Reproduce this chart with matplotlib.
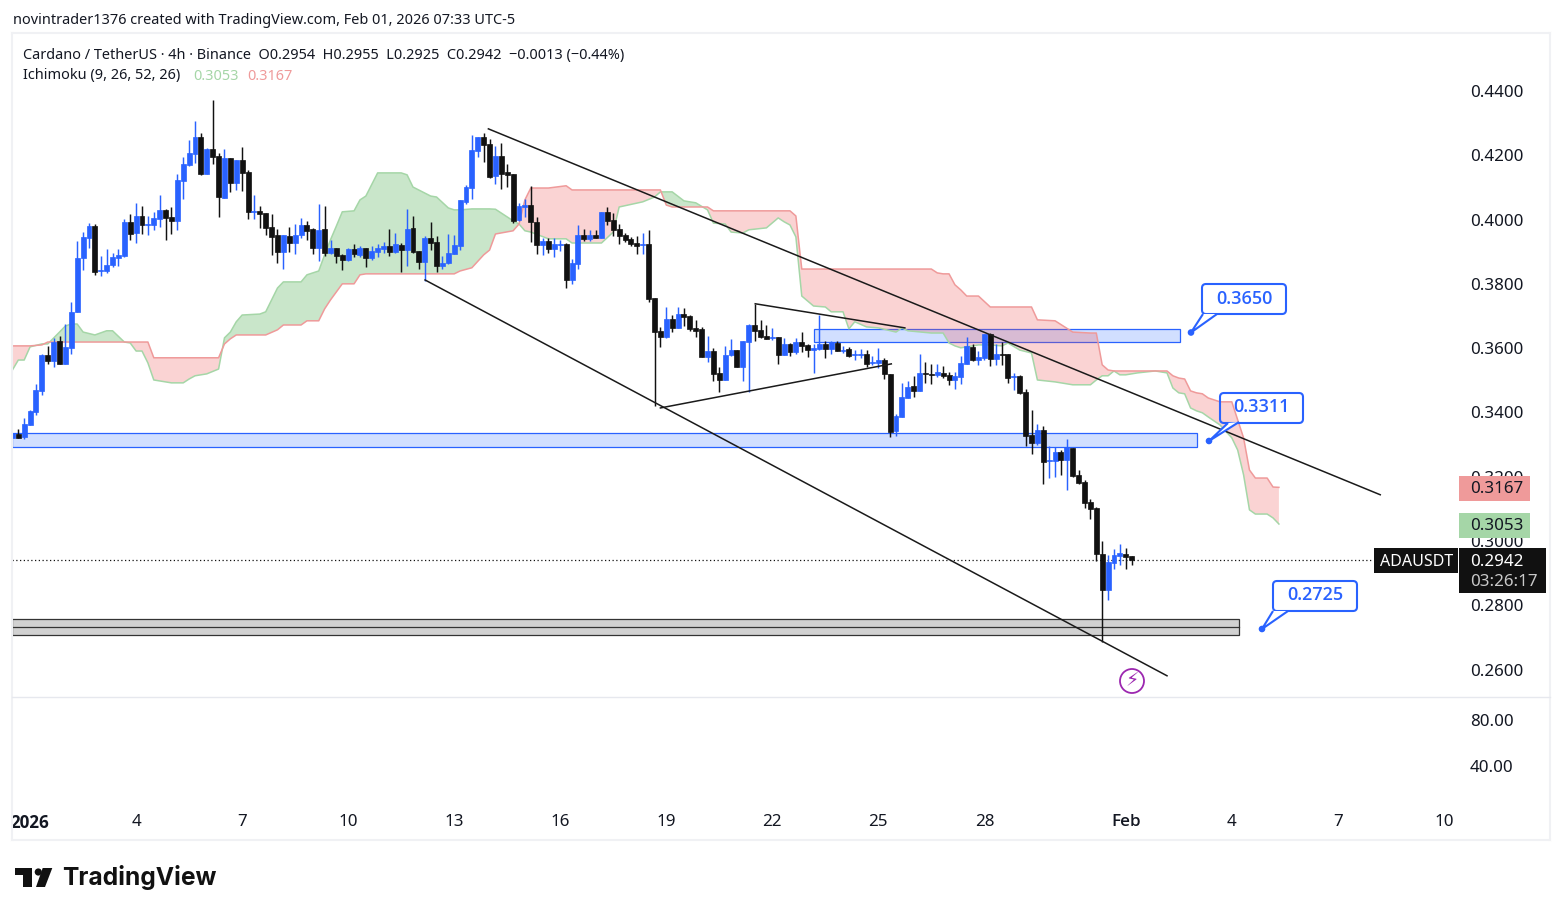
import matplotlib
matplotlib.use('Agg')
import matplotlib.pyplot as plt
import numpy as np
from matplotlib.lines import Line2D
from matplotlib.patches import FancyBboxPatch, Polygon, Rectangle, Circle
from matplotlib.transforms import Affine2D

plt.rcParams['font.family'] = ['Noto Sans', 'DejaVu Sans']

BLUE = '#2962ff'
BLACK = '#111111'
TEXT = '#131722'

opens = [.3319, .3333, .3323, .3361, .3401, .3467, .3579, .3560, .3622, .3551,
         .3600, .3712, .3880, .3943, .3980, .3840, .3840, .3859, .3880, .3887,
         .3992, .3958, .4011, .3983, .3983, .4002, .4030, .4008, .3995, .4120,
         .4170, .4204, .4257, .4142, .4219, .4198, .4067, .4191, .4114, .4185,
         .4148, .4023, .4027, .4021, .3977, .3952, .3899, .3949, .3927, .3952,
         .3983, .3971, .3912, .3971, .3896, .3912, .3890, .3874, .3909, .3890,
         .3912, .3881, .3899, .3909, .3918, .3899, .3921, .3906, .3974, .3902,
         .3868, .3943, .3930, .3856, .3865, .3893, .3918, .4055, .4098, .4214,
         .4257, .4235, .4136, .4198, .4148, .4142, .3999, .4039, .4046, .3993,
         .3921, .3934, .3909, .3921, .3924, .3812, .3862, .3952, .3940, .3952,
         .3943, .4024, .3999, .3971, .3952, .3940, .3927, .3921, .3924, .3756,
         .3653, .3635, .3691, .3663, .3706, .3700, .3663, .3660, .3573, .3591,
         .3523, .3501, .3579, .3594, .3541, .3619, .3672, .3657, .3638, .3632,
         .3635, .3579, .3613, .3588, .3619, .3610, .3594, .3597, .3613, .3597,
         .3616, .3591, .3597, .3579, .3579, .3582, .3555, .3554, .3563, .3520,
         .3343, .3386, .3445, .3483, .3467, .3523, .3520, .3517, .3523, .3517,
         .3501, .3511, .3551, .3604, .3564, .3570, .3644, .3567, .3582, .3582,
         .3511, .3514, .3464, .3330, .3305, .3346, .3249, .3249, .3277, .3252,
         .3290, .3206, .3184, .3122, .3103, .2960, .2848, .2932, .2954, .2960,
         .2954]
highs = [.3335, .3350, .3382, .3407, .3490, .3582, .3607, .3631, .3638, .3675,
         .3743, .3933, .3961, .3989, .3986, .3887, .3908, .3896, .3908, .4002,
         .4017, .4051, .4042, .4011, .4023, .4076, .4033, .4039, .4142, .4195,
         .4247, .4307, .4269, .4223, .4372, .4207, .4219, .4191, .4185, .4226,
         .4154, .4076, .4042, .4021, .4018, .3971, .3952, .3977, .3986, .4005,
         .3996, .3974, .4049, .4042, .3937, .3912, .3893, .3912, .3924, .3918,
         .3912, .3918, .3924, .3930, .3971, .3958, .3927, .4033, .4011, .3902,
         .3949, .3993, .3949, .3887, .3955, .3952, .4061, .4108, .4263, .4257,
         .4270, .4251, .4229, .4238, .4173, .4142, .4052, .4064, .4105, .4008,
         .3943, .3943, .3943, .3937, .3927, .3878, .3983, .3971, .3968, .3968,
         .4024, .4039, .4021, .3986, .3958, .3946, .3949, .3958, .3968, .3756,
         .3666, .3728, .3703, .3728, .3725, .3703, .3688, .3666, .3638, .3601,
         .3541, .3607, .3629, .3594, .3622, .3675, .3737, .3688, .3672, .3663,
         .3635, .3632, .3616, .3632, .3650, .3613, .3613, .3703, .3622, .3622,
         .3622, .3607, .3604, .3594, .3597, .3594, .3576, .3601, .3569, .3520,
         .3396, .3492, .3498, .3514, .3582, .3557, .3551, .3551, .3545, .3526,
         .3526, .3576, .3635, .3613, .3592, .3644, .3648, .3613, .3620, .3582,
         .3523, .3517, .3473, .3408, .3364, .3358, .3296, .3293, .3284, .3318,
         .3290, .3221, .3190, .3131, .3106, .3000, .2957, .2976, .2991, .2979,
         .2955]
lows = [.3319, .3320, .3318, .3361, .3392, .3454, .3551, .3541, .3551, .3551,
        .3582, .3712, .3843, .3911, .3827, .3824, .3834, .3852, .3855, .3883,
        .3936, .3927, .3955, .3952, .3967, .3977, .3936, .3955, .3967, .4064,
        .4167, .4176, .4139, .4142, .4173, .4008, .4067, .4086, .4092, .4089,
        .4002, .4002, .3974, .3952, .3890, .3865, .3846, .3899, .3893, .3943,
        .3937, .3893, .3871, .3887, .3893, .3865, .3843, .3871, .3884, .3884,
        .3853, .3874, .3884, .3896, .3887, .3896, .3837, .3856, .3896, .3846,
        .3809, .3906, .3837, .3846, .3862, .3893, .3906, .4049, .4064, .4195,
        .4179, .4130, .4111, .4095, .4102, .3990, .3996, .4008, .3930, .3893,
        .3890, .3896, .3884, .3902, .3787, .3800, .3846, .3934, .3934, .3943,
        .3943, .3983, .3949, .3924, .3930, .3918, .3893, .3893, .3744, .3420,
        .3604, .3632, .3650, .3663, .3669, .3653, .3635, .3573, .3557, .3498,
        .3464, .3501, .3576, .3541, .3498, .3464, .3622, .3632, .3629, .3625,
        .3551, .3579, .3576, .3582, .3588, .3573, .3523, .3594, .3569, .3582,
        .3591, .3585, .3573, .3563, .3569, .3541, .3548, .3538, .3504, .3324,
        .3327, .3386, .3445, .3448, .3467, .3492, .3489, .3511, .3508, .3486,
        .3473, .3489, .3551, .3560, .3548, .3564, .3545, .3548, .3548, .3492,
        .3470, .3458, .3296, .3271, .3299, .3178, .3196, .3200, .3206, .3159,
        .3200, .3178, .3103, .3069, .2938, .2686, .2817, .2913, .2926, .2913,
        .2925]
closes = [.3335, .3320, .3364, .3404, .3470, .3579, .3560, .3619, .3551, .3603,
          .3712, .3880, .3946, .3980, .3837, .3843, .3859, .3883, .3890, .3992,
          .3955, .4011, .3983, .3986, .4005, .4030, .4005, .3995, .4123, .4173,
          .4207, .4257, .4142, .4219, .4195, .4070, .4191, .4114, .4185, .4145,
          .4023, .4027, .4018, .3974, .3946, .3899, .3952, .3927, .3952, .3983,
          .3965, .3912, .3968, .3896, .3912, .3887, .3874, .3909, .3893, .3912,
          .3881, .3902, .3912, .3918, .3899, .3924, .3906, .3971, .3899, .3868,
          .3943, .3927, .3856, .3865, .3896, .3921, .4061, .4102, .4217, .4257,
          .4232, .4133, .4198, .4142, .4139, .3996, .4042, .4046, .3993, .3921,
          .3934, .3909, .3924, .3924, .3812, .3865, .3952, .3940, .3952, .3943,
          .4024, .3996, .3968, .3949, .3937, .3924, .3918, .3924, .3753, .3650,
          .3635, .3691, .3663, .3706, .3697, .3660, .3653, .3573, .3591, .3520,
          .3501, .3579, .3594, .3541, .3622, .3672, .3653, .3635, .3629, .3635,
          .3579, .3613, .3588, .3619, .3607, .3594, .3601, .3613, .3597, .3619,
          .3591, .3594, .3576, .3582, .3582, .3551, .3558, .3563, .3520, .3339,
          .3389, .3448, .3480, .3467, .3523, .3520, .3517, .3526, .3514, .3501,
          .3514, .3554, .3607, .3564, .3573, .3644, .3567, .3582, .3579, .3508,
          .3514, .3461, .3327, .3305, .3346, .3246, .3252, .3277, .3252, .3293,
          .3203, .3181, .3119, .3100, .2960, .2848, .2935, .2957, .2963, .2951,
          .2942]

# ichimoku cloud, read at the bars where the edges change direction
cloud_bars = [0, 1, 2, 3, 5, 6, 8, 9, 10, 11, 12, 14, 16, 17, 19, 20, 21, 22, 23, 24,
              27, 29, 30, 31, 33, 35, 36, 37, 38, 39, 42, 43, 45, 46, 49, 50, 52, 53, 54, 55,
              56, 58, 59, 60, 62, 66, 67, 68, 71, 72, 74, 75, 76, 78, 80, 81, 82, 85, 86, 87,
              88, 91, 94, 95, 100, 102, 103, 107, 109, 110, 111, 112, 114, 116, 118, 119, 121, 122, 124, 125,
              128, 130, 131, 132, 133, 134, 136, 138, 139, 141, 142, 143, 145, 147, 150, 151, 152, 156, 157, 158,
              159, 160, 161, 162, 164, 166, 168, 169, 171, 173, 174, 177, 180, 183, 184, 185, 186, 187, 188, 189,
              191, 194, 196, 197, 198, 199, 200, 201, 202, 203, 205, 207, 208, 209, 210, 211, 213, 214, 215]
span_a = [.3532, .3563, .3563, .3604, .3613, .3613, .3650, .3669, .3675, .3675, .3650, .3641, .3654, .3654, .3619, .3616, .3591, .3591, .3554, .3501,
          .3492, .3492, .3504, .3514, .3520, .3535, .3632, .3650, .3682, .3703, .3706, .3713, .3787, .3806, .3806, .3828, .3840, .3890, .3937, .3980,
          .4024, .4027, .4061, .4073, .4145, .4145, .4139, .4101, .4073, .4070, .4036, .4030, .4030, .4033, .4033, .4033, .4032, .3996, .3986, .3965,
          .3961, .3940, .3940, .3927, .3927, .3961, .4039, .4055, .4070, .4086, .4086, .4086, .4058, .4052, .4030, .3989, .3986, .3961, .3958, .3968,
          .3974, .4005, .3993, .3983, .3946, .3762, .3731, .3728, .3713, .3713, .3660, .3682, .3666, .3663, .3650, .3663, .3654, .3647, .3647, .3647,
          .3616, .3607, .3601, .3604, .3610, .3610, .3607, .3616, .3594, .3585, .3501, .3495, .3486, .3486, .3501, .3514, .3514, .3529, .3517, .3517,
          .3523, .3529, .3523, .3476, .3461, .3458, .3414, .3405, .3399, .3386, .3361, .3321, .3283, .3206, .3097, .3084, .3084, .3072, .3053]
span_b = [.3607, .3607, .3607, .3607, .3610, .3619, .3619, .3619, .3619, .3619, .3619, .3619, .3619, .3619, .3619, .3619, .3619, .3619, .3619, .3570,
          .3570, .3570, .3570, .3570, .3570, .3570, .3613, .3629, .3641, .3641, .3641, .3641, .3657, .3672, .3672, .3685, .3685, .3722, .3750, .3775,
          .3800, .3800, .3828, .3831, .3831, .3831, .3831, .3831, .3831, .3831, .3831, .3831, .3840, .3850, .3890, .3905, .3955, .3965, .3986, .4061,
          .4098, .4098, .4105, .4092, .4092, .4092, .4092, .4092, .4092, .4092, .4045, .4039, .4039, .4039, .4039, .4027, .4027, .4027, .4027, .4027,
          .4027, .4027, .4027, .4027, .4011, .3846, .3846, .3846, .3846, .3846, .3846, .3846, .3846, .3846, .3846, .3846, .3846, .3846, .3834, .3831,
          .3831, .3797, .3781, .3762, .3762, .3728, .3728, .3728, .3728, .3728, .3688, .3685, .3650, .3647, .3647, .3548, .3532, .3529, .3529, .3529,
          .3529, .3529, .3529, .3514, .3507, .3504, .3467, .3461, .3458, .3445, .3433, .3433, .3377, .3321, .3221, .3196, .3196, .3168, .3167]

# drawings: (bar, price) pairs
trend_lines = [((80.8, .4282), (232.2, .3144)),
               ((70.05, .3812), (196.0, .2581)),
               ((126.1, .3738), (151.5, .3663)),
               ((110.0, .3414), (149.2, .3551))]
blue_zones = [(136.1, 198.2, .3619, .3660), (0.0, 201.1, .3293, .3336)]
gray_zone = (0.0, 208.3, .2708, .2733, .2758)

price_ticks = [.26, .28, .30, .32, .34, .36, .38, .40, .42, .44]
rsi_ticks = [40, 80]
tick_days = [0, 3, 6, 9, 12, 15, 18, 21, 24, 27, 31, 34, 37, 40]
tick_labels = ['2026', '4', '7', '10', '13', '16', '19', '22', '25', '28', 'Feb', '4', '7', '10']

callout_labels = ['0.3650', '0.3311', '0.2725']
span_a_last = 0.3053
span_b_last = 0.3167

W, H = 1563, 916
# pixel coordinates with the origin top left, for the screen furniture
px_tf = Affine2D().scale(1, -1).translate(0, H)


def fs(px):
    return px * 0.72


def axes_px(fig, x0, y0, x1, y1):
    return fig.add_axes([x0 / W, 1 - y1 / H, (x1 - x0) / W, (y1 - y0) / H])


def draw_candles(ax):
    o, h, l, c = map(np.array, (opens, highs, lows, closes))
    x = np.arange(len(o))
    colors = np.where(c >= o, BLUE, BLACK)
    ax.vlines(x, l, h, colors=colors, lw=1.05, zorder=3)
    ax.bar(x, np.abs(c - o), bottom=np.minimum(o, c), width=0.84, color=colors,
           edgecolor=colors, linewidth=0.5, zorder=3.1)


def draw_cloud(ax):
    a, b = np.array(span_a), np.array(span_b)
    ax.fill_between(cloud_bars, a, b, where=a >= b, interpolate=True, color='#4caf50',
                    alpha=0.3, lw=0, zorder=2)
    ax.fill_between(cloud_bars, a, b, where=a <= b, interpolate=True, color='#ef5350',
                    alpha=0.25, lw=0, zorder=2)
    ax.plot(cloud_bars, a, color='#a5d6a7', lw=1.1, zorder=2.1)
    ax.plot(cloud_bars, b, color='#ef9a9a', lw=1.1, zorder=2.1)


def draw_zones(ax):
    for x0, x1, y0, y1 in blue_zones:
        ax.add_patch(Rectangle((x0, y0), x1 - x0, y1 - y0, fc='#d1dfff', ec=BLUE, lw=0.9, zorder=1))
    x0, x1, y0, ym, y1 = gray_zone
    ax.add_patch(Rectangle((x0, y0), x1 - x0, y1 - y0, fc='#d1d1d1', ec='#333333', lw=0.9, zorder=1))
    ax.plot([x0, x1], [ym, ym], color='#333333', lw=0.9, zorder=1.1)


def callout(ax, label, box, tip, base):
    x0, y0, x1, y1 = box
    ax.add_patch(FancyBboxPatch((x0, y0), x1 - x0, y1 - y0, boxstyle='round,pad=0,rounding_size=4',
                                fc='none', ec=BLUE, lw=1.5, transform=px_tf, clip_on=False, zorder=7))
    ax.add_patch(Polygon([base[0], tip, base[1]], closed=False, fc='white', ec=BLUE, lw=1.5,
                         transform=px_tf, clip_on=False, zorder=7.1))
    ax.add_patch(Circle(tip, 2.6, fc=BLUE, ec=BLUE, transform=px_tf, clip_on=False, zorder=7.2))
    ax.text((x0 + x1) / 2, (y0 + y1) / 2 - 0.5, label, color=BLUE, fontsize=fs(18), family='Open Sans',
            weight='semibold', ha='center', va='center', transform=px_tf, clip_on=False, zorder=7.3)


def badge(ax, box, color, label, y_text, text_color=TEXT, x_text=1470, size=17):
    x0, y0, x1, y1 = box
    ax.add_patch(Rectangle((x0, y0), x1 - x0, y1 - y0, fc=color, ec='none', transform=px_tf,
                           clip_on=False, zorder=6))
    ax.text(x_text, y_text, label, color=text_color, fontsize=fs(size), ha='left', va='center',
            transform=px_tf, clip_on=False, zorder=6.1)


def furniture(fig, ax):
    for x0, y0, x1, y1, col, lw in [(12, 33, 1550, 33, '#f0f1f4', 1.5), (12, 33, 12, 840, '#f0f1f4', 1.5),
                                    (1550, 33, 1550, 840, '#f0f1f4', 1.5), (12, 840, 1550, 840, '#f0f1f4', 1.5),
                                    (12, 697, 1550, 697, '#e6e8ee', 1.0)]:
        fig.add_artist(Line2D([x0, x1], [y0, y1], color=col, lw=lw, transform=px_tf))

    def label(x, y, s, size=14.5, color=TEXT, **kw):
        fig.text(x, y, s, color=color, fontsize=fs(size), ha='left', va='center', transform=px_tf, **kw)

    label(13, 21, 'novintrader1376 created with TradingView.com, Feb 01, 2026 07:33 UTC-5')
    label(23, 56, 'Cardano / TetherUS · 4h · Binance  O0.2954  H0.2955  L0.2925  C0.2942  \u22120.0013 (\u22120.44%)')
    label(23, 76, 'Ichimoku (9, 26, 52, 26)')
    label(193, 76, f'{span_a_last:.4f}', color='#a5d6a7')
    label(247, 76, f'{span_b_last:.4f}', color='#ef9a9a')

    # logo
    fig.add_artist(Polygon([(15, 868), (32, 868), (32, 887), (23, 887), (23, 875), (15, 875)],
                           fc=BLACK, ec='none', transform=px_tf))
    fig.add_artist(Circle((38.3, 872), 3.6, fc=BLACK, ec='none', transform=px_tf))
    fig.add_artist(Polygon([(42.7, 868), (52.3, 868), (45, 887), (36, 887)], fc=BLACK, ec='none', transform=px_tf))
    fig.text(62, 878, 'TradingView', color=BLACK, fontsize=fs(24.6), family='Inter', weight='bold',
             ha='left', va='center', transform=px_tf)


def main():
    fig = plt.figure(figsize=(W / 100, H / 100), dpi=100, facecolor='white')
    ax = axes_px(fig, 13, 34, 1458, 697)
    ax2 = axes_px(fig, 13, 698, 1458, 806)

    draw_zones(ax)
    draw_cloud(ax)
    draw_candles(ax)
    for (x0, y0), (x1, y1) in trend_lines:
        ax.plot([x0, x1], [y0, y1], color='#1a1a1a', lw=1.1, zorder=4)
    ax.hlines(closes[-1], 0, 231, color=BLACK, lw=0.9, linestyles=(0, (1, 2)), zorder=1.5)

    ax.set_xlim(0.1, 245.4)
    ax.set_ylim(.2515, .4577)
    ax.yaxis.tick_right()
    ax.set_yticks(price_ticks, [f'{p:.4f}' for p in price_ticks])
    ax.tick_params(axis='y', length=0, pad=8.6, labelsize=fs(17), labelcolor=TEXT)
    ax.set_xticks([])

    ax2.set_xlim(0.1, 245.4)
    ax2.set_ylim(5.2, 99.1)
    ax2.yaxis.tick_right()
    ax2.set_yticks(rsi_ticks, [f'{v:.2f}' for v in rsi_ticks])
    ax2.tick_params(axis='y', length=0, pad=8.6, labelsize=fs(17), labelcolor=TEXT)
    ax2.set_xticks([3 + 6 * d for d in tick_days], tick_labels)
    ax2.tick_params(axis='x', length=0, pad=5.8, labelsize=fs(17), labelcolor=TEXT)
    for t in ax2.get_xticklabels():
        if t.get_text() == '2026':
            t.set_family('Open Sans')
            t.set_fontweight('bold')
        elif t.get_text() == 'Feb':
            t.set_family('Open Sans')
            t.set_fontweight('semibold')

    for a in (ax, ax2):
        a.patch.set_alpha(0)
        for s in a.spines.values():
            s.set_visible(False)

    callout(ax, callout_labels[0], (1202, 284, 1286, 314), (1191, 332.5), [(1203, 314), (1217, 314)])
    callout(ax, callout_labels[1], (1220, 393, 1303, 423), (1209, 441), [(1228, 423), (1239, 422)])
    callout(ax, callout_labels[2], (1273, 581, 1357, 611), (1262, 629), [(1273, 611), (1288, 611)])

    badge(ax, (1459, 476, 1530, 501), '#ef9a9a', f'{span_b_last:.4f}', 489)
    badge(ax, (1459, 513, 1530, 538), '#a5d6a7', f'{span_a_last:.4f}', 526)
    badge(ax, (1459, 548, 1546, 593), BLACK, f'{closes[-1]:.4f}', 562, 'white')
    ax.text(1470, 582, '03:26:17', color='#c9c9c9', fontsize=fs(17), ha='left', va='center',
            transform=px_tf, clip_on=False, zorder=6.1)
    badge(ax, (1374, 548, 1458, 573), BLACK, 'ADAUSDT', 562, 'white', x_text=1380, size=16)

    # purple marker under the last candles
    ax.add_patch(Circle((1132, 681), 12, fc='white', ec='#9c27b0', lw=1.3, transform=px_tf,
                        clip_on=False, zorder=5))
    ax.text(1132, 681, '\u26a1', color='#9c27b0', fontsize=fs(19), family='DejaVu Sans', ha='center',
            va='center', transform=px_tf, clip_on=False, zorder=5.1)

    furniture(fig, ax)
    fig.savefig('out.png', dpi=100)


if __name__ == '__main__':
    main()
